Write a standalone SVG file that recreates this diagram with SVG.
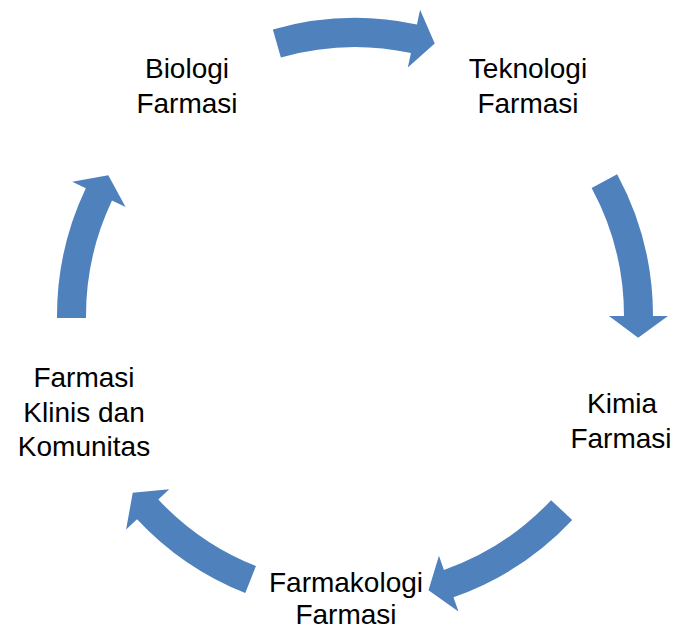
<svg xmlns="http://www.w3.org/2000/svg" width="673" height="631" viewBox="0 0 673 631">
<style>
.arrow{fill:#4F81BD;stroke:none}
.lbl{font-family:"Liberation Sans",Arial,sans-serif;font-size:28px;fill:#000;text-anchor:middle}
</style>
<rect width="673" height="631" fill="#fff"/>
<g id="connectors">
<path class="arrow" d="M272.86,29.54 A298,298 0 0 1 416.96,24.51 L420.08,9.84 L434.71,43.41 L407.81,67.55 L410.93,52.88 A269,269 0 0 0 280.85,57.42 Z"/>
<path class="arrow" d="M617.14,174.27 A298,298 0 0 1 653,316 L668,316 L638.16,337.79 L609,316 L624,316 A269,269 0 0 0 591.63,188.06 Z"/>
<path class="arrow" d="M572.23,520 A298,298 0 0 1 453.49,597.25 L458.45,611.41 L428.5,590.32 L438.95,555.73 L443.91,569.88 A269,269 0 0 0 551.09,500.14 Z"/>
<path class="arrow" d="M245.3,593.07 A298,298 0 0 1 137.06,519.24 L126.09,529.47 L132.74,492.79 L169.24,489.23 L158.27,499.46 A269,269 0 0 0 255.98,566.11 Z"/>
<path class="arrow" d="M57.01,318.08 A298,298 0 0 1 85.8,188.18 L72.25,181.74 L108.31,175.29 L125.55,207.05 L112,200.62 A269,269 0 0 0 86,317.88 Z"/>
</g>
<g id="node-biologi"><text class="lbl" x="187" y="78">Biologi</text><text class="lbl" x="187" y="113">Farmasi</text></g>
<g id="node-teknologi"><text class="lbl" x="528" y="78">Teknologi</text><text class="lbl" x="528" y="113">Farmasi</text></g>
<g id="node-kimia"><text class="lbl" x="622" y="413">Kimia</text><text class="lbl" x="621" y="448">Farmasi</text></g>
<g id="node-farmakologi"><text class="lbl" x="346" y="592">Farmakologi</text><text class="lbl" x="346" y="624">Farmasi</text></g>
<g id="node-klinis"><text class="lbl" x="84" y="387">Farmasi</text><text class="lbl" x="84" y="422">Klinis dan</text><text class="lbl" x="84" y="456">Komunitas</text></g>
</svg>
